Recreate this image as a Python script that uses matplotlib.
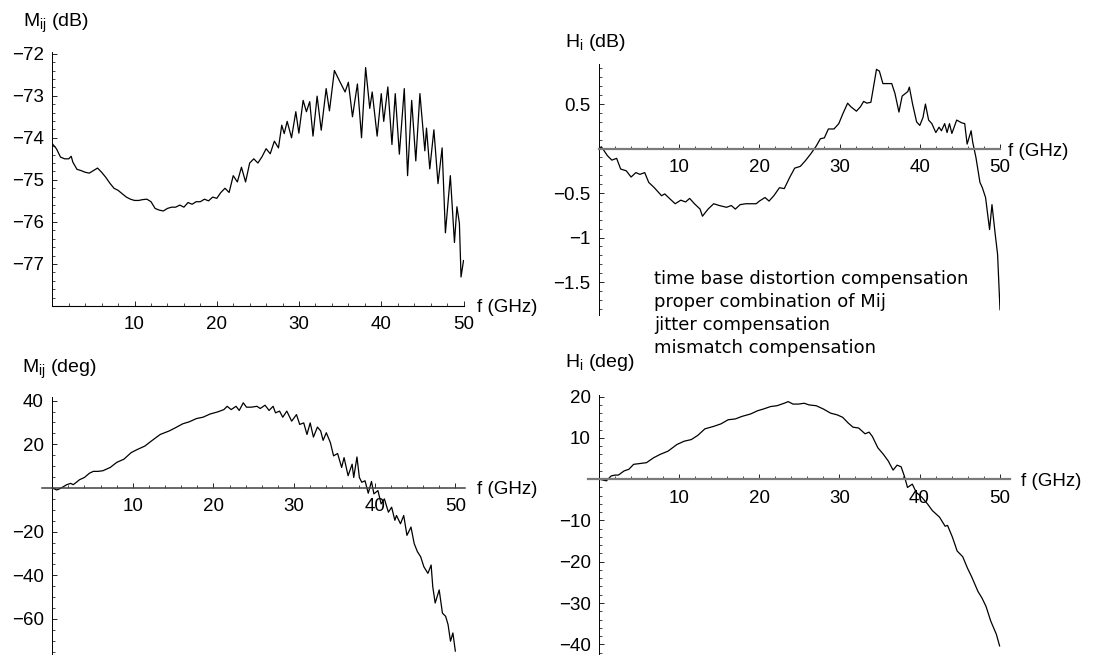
import matplotlib
matplotlib.use("Agg")
import matplotlib.pyplot as plt
from matplotlib.ticker import MultipleLocator

plt.rcParams['font.family'] = ['Liberation Sans', 'DejaVu Sans']
plt.rcParams['mathtext.fontset'] = 'custom'
plt.rcParams['mathtext.rm'] = 'Liberation Sans'
plt.rcParams['mathtext.it'] = 'Liberation Sans:italic'

# ---------------- data ----------------
# Top-left: M_ij magnitude (dB)
f_mag_ij = [0, 0.5, 1, 1.5, 2, 2.3, 2.5, 3, 3.5, 4, 4.5, 5, 5.5, 6, 6.5, 7, 7.5, 8,
            8.5, 9, 9.5, 10, 10.5, 11, 11.5, 12, 12.5, 13, 13.5, 14, 14.5, 15, 15.5,
            16, 16.5, 17, 17.5, 18, 18.5, 19, 19.5, 20, 20.5, 21, 21.5, 22, 22.5, 23,
            23.5, 24, 24.5, 25, 25.5, 26, 26.5, 27, 27.5, 27.9, 28.2, 28.56, 29.09,
            29.61, 29.98, 30.5, 30.9, 31.3, 31.7, 32.2, 32.7, 33.3, 33.7, 34.3, 34.9,
            35.6, 36.0, 36.5, 37.1, 37.6, 38.1, 38.6, 38.9, 39.5, 40.0, 40.3, 40.8,
            41.3, 41.7, 42.2, 42.8, 43.2, 43.7, 44.2, 44.7, 45.3, 45.5, 45.9, 46.4,
            46.9, 47.4, 47.8, 48.4, 48.9, 49.2, 49.5, 49.7, 50.0]
mag_ij_db = [-74.14, -74.26, -74.46, -74.50, -74.50, -74.44, -74.58, -74.75, -74.78,
             -74.82, -74.84, -74.78, -74.72, -74.82, -74.94, -75.08, -75.20, -75.25,
             -75.33, -75.41, -75.46, -75.49, -75.49, -75.47, -75.46, -75.52, -75.68,
             -75.72, -75.74, -75.68, -75.65, -75.65, -75.60, -75.65, -75.54, -75.58,
             -75.52, -75.52, -75.46, -75.50, -75.41, -75.44, -75.30, -75.20, -75.30,
             -74.90, -75.05, -74.70, -75.05, -74.60, -74.50, -74.60, -74.45, -74.26,
             -74.38, -74.08, -74.24, -73.70, -73.90, -73.61, -74.00, -73.38, -73.89,
             -73.11, -73.38, -73.14, -73.96, -73.01, -73.82, -72.83, -73.36, -72.40,
             -72.64, -72.91, -72.68, -73.50, -72.72, -74.00, -72.33, -73.30, -72.91,
             -73.96, -72.95, -73.61, -72.79, -74.16, -72.95, -74.39, -72.83, -74.90,
             -73.11, -74.55, -72.95, -74.31, -73.77, -74.74, -73.81, -75.09, -74.24,
             -76.26, -74.90, -76.49, -75.64, -76.03, -77.31, -76.92]

# Top-right: H_i magnitude (dB)
f_mag_h = [0, 0.3, 1.05, 1.6, 2.2, 2.7, 3.4, 4.0, 4.6, 5.1, 5.7, 6.2, 6.9, 7.8, 8.2,
           8.9, 9.5, 10.2, 10.8, 11.3, 11.9, 12.6, 12.9, 13.6, 14.3, 15.0, 15.9,
           16.5, 17.0, 17.6, 18.3, 18.9, 19.6, 20.0, 20.7, 21.2, 21.8, 22.5, 23.1,
           23.8, 24.4, 25.1, 25.7, 26.4, 27.1, 27.6, 28.1, 28.6, 29.3, 29.9, 30.4,
           31.0, 31.4, 32.1, 32.6, 33.0, 33.4, 33.9, 34.3, 34.6, 34.96, 35.4, 36.1,
           36.5, 36.9, 37.4, 37.8, 38.5, 38.7, 39.1, 39.6, 40.0, 40.4, 40.7, 41.1,
           41.5, 42.0, 42.4, 42.7, 43.1, 43.4, 43.7, 44.0, 44.6, 45.2, 45.6, 45.9,
           46.4, 46.6, 47.0, 47.5, 47.8, 48.2, 48.7, 49.0, 49.4, 49.7, 50.0]
mag_h_db = [0.0, 0.02, -0.08, -0.13, -0.11, -0.23, -0.25, -0.32, -0.27, -0.29, -0.27,
            -0.38, -0.44, -0.53, -0.51, -0.57, -0.62, -0.58, -0.60, -0.56, -0.62,
            -0.68, -0.76, -0.68, -0.62, -0.64, -0.66, -0.64, -0.68, -0.63, -0.62,
            -0.62, -0.62, -0.59, -0.55, -0.59, -0.53, -0.44, -0.45, -0.32, -0.22,
            -0.20, -0.14, -0.06, 0.03, 0.11, 0.12, 0.22, 0.22, 0.28, 0.39, 0.51, 0.47,
            0.42, 0.47, 0.53, 0.51, 0.52, 0.73, 0.89, 0.87, 0.73, 0.73, 0.73, 0.62,
            0.41, 0.59, 0.64, 0.69, 0.50, 0.30, 0.26, 0.35, 0.50, 0.32, 0.28, 0.18,
            0.24, 0.20, 0.28, 0.18, 0.28, 0.17, 0.32, 0.29, 0.28, 0.05, 0.20, 0.07,
            -0.10, -0.38, -0.44, -0.55, -0.91, -0.63, -0.96, -1.19, -1.81]

# Bottom-left: M_ij phase (deg)
f_ph_ij = [0, 0.56, 0.86, 1.4, 1.8, 2.3, 2.6, 3.0, 3.4, 4.0, 4.6, 5.1, 5.7, 6.3, 7.2,
           8.0, 8.9, 9.8, 10.6, 11.5, 12.3, 13.4, 14.5, 15.3, 16.2, 17.0, 17.9, 18.7,
           19.6, 20.5, 21.3, 21.7, 22.2, 22.8, 23.2, 23.7, 24.1, 24.7, 25.4, 25.8,
           26.4, 26.9, 27.4, 27.7, 28.2, 28.6, 29.1, 29.7, 30.3, 30.7, 31.2, 31.6,
           32.0, 32.4, 32.9, 33.3, 33.6, 34.0, 34.5, 34.9, 35.4, 35.9, 36.2, 36.7,
           37.2, 37.4, 37.8, 38.1, 38.4, 38.8, 39.2, 39.6, 39.9, 40.4, 40.8, 41.2,
           41.7, 42.1, 42.5, 42.7, 43.2, 43.6, 44.0, 44.5, 44.9, 45.3, 45.7, 46.1,
           46.6, 47.0, 47.2, 47.5, 48.0, 48.4, 48.8, 49.1, 49.4, 49.7, 50.0]
ph_ij_deg = [0.0, -0.9, -0.5, 0.6, 1.5, 2.1, 1.5, 2.6, 3.8, 4.8, 6.7, 7.6, 7.6, 7.9,
             9.4, 11.7, 13.2, 16.2, 17.7, 19.2, 21.5, 24.5, 26.1, 27.6, 29.4, 30.3,
             31.8, 32.4, 33.9, 34.8, 35.9, 37.4, 35.9, 37.4, 35.5, 39.0, 37.0, 37.0,
             37.4, 36.4, 37.9, 35.5, 37.4, 34.4, 35.2, 32.4, 35.2, 30.6, 33.6, 29.1,
             29.8, 24.5, 29.8, 23.3, 27.9, 26.1, 21.8, 25.3, 20.8, 14.7, 15.8, 9.4,
             13.9, 5.6, 10.9, 4.8, 14.2, 4.8, 2.6, 3.3, -2.4, 3.0, -2.7, -1.2, -7.3,
             -5.0, -11.1, -8.8, -14.8, -12.6, -16.4, -12.6, -21.7, -17.9, -25.5,
             -29.2, -31.5, -36.1, -39.1, -35.3, -45.2, -52.7, -46.7, -57.3, -58.8,
             -62.6, -70.2, -66.4, -74.7]

# Bottom-right: H_i phase (deg)
f_ph_h = [0, 0.9, 1.5, 2.0, 2.4, 3.1, 3.7, 4.3, 5.1, 5.9, 6.8, 7.6, 8.6, 9.7, 10.6,
          11.5, 12.3, 13.2, 14.3, 15.2, 16.1, 17.0, 17.8, 18.9, 19.8, 20.5, 21.4,
          22.2, 23.1, 23.6, 24.2, 24.9, 25.6, 26.2, 27.1, 28.0, 28.9, 29.7, 30.4,
          31.1, 31.7, 32.4, 33.2, 33.7, 34.1, 34.8, 35.5, 36.1, 36.7, 37.2, 37.7,
          38.1, 38.5, 39.1, 39.6, 40.3, 41.0, 41.6, 42.5, 43.2, 43.5, 44.1, 44.7,
          45.4, 46.0, 46.5, 47.3, 47.8, 48.3, 48.9, 49.6, 50.0]
ph_h_deg = [0.0, -0.4, 0.8, 1.0, 1.0, 2.0, 2.4, 3.6, 3.8, 4.0, 5.2, 6.0, 6.8, 8.4,
            9.2, 9.6, 10.6, 12.2, 12.8, 13.4, 14.4, 14.6, 15.2, 15.8, 16.6, 17.0,
            17.6, 17.8, 18.4, 18.8, 18.2, 18.2, 18.4, 18.0, 17.8, 17.0, 16.0, 15.6,
            15.0, 13.6, 12.6, 12.4, 11.0, 11.4, 10.4, 7.6, 6.0, 4.4, 2.2, 3.4, 3.0,
            0.8, -2.0, -1.2, -3.2, -4.4, -6.0, -7.6, -9.2, -11.4, -11.2, -14.0,
            -17.4, -18.8, -21.6, -23.6, -27.2, -28.8, -30.8, -34.4, -37.6, -40.4]

x_ticks = [10, 20, 30, 40, 50]
x_ticklabels = ["10", "20", "30", "40", "50"]
tl_yticks = [-77, -76, -75, -74, -73, -72]
tl_yticklabels = ["\u221277", "\u221276", "\u221275", "\u221274", "\u221273", "\u221272"]
tr_yticks = [-1.5, -1, -0.5, 0.5]
tr_yticklabels = ["\u22121.5", "\u22121", "\u22120.5", "0.5"]
bl_yticks = [-60, -40, -20, 20, 40]
bl_yticklabels = ["\u221260", "\u221240", "\u221220", "20", "40"]
br_yticks = [-40, -30, -20, -10, 10, 20]
br_yticklabels = ["\u221240", "\u221230", "\u221220", "\u221210", "10", "20"]
notes = ["time base distortion compensation", "proper combination of Mij",
         "jitter compensation", "mismatch compensation"]

# ---------------- figure ----------------
W, H = 1094, 655
fig = plt.figure(figsize=(W / 100, H / 100), dpi=100)


def add_ax(left, right, top, bottom):
    return fig.add_axes([left / W, 1 - bottom / H, (right - left) / W, (bottom - top) / H])


def ptext(x, y, s, **kw):
    return fig.text(x / W, 1 - y / H, s, **kw)


def style(ax, xlim, ylim, yticks, yticklabels, yminor, xaxis_y, xcol, xlw):
    ax.set_xlim(*xlim)
    ax.set_ylim(*ylim)
    ax.patch.set_alpha(0)
    for s in ("top", "right"):
        ax.spines[s].set_visible(False)
    ax.spines["left"].set_position(("data", 0))
    ax.spines["left"].set_linewidth(0.7)
    ax.spines["left"].set_color("black")
    ax.spines["bottom"].set_position(("data", xaxis_y))
    ax.spines["bottom"].set_color(xcol)
    ax.spines["bottom"].set_linewidth(xlw)
    ax.set_xticks(x_ticks, labels=x_ticklabels)
    ax.set_yticks(yticks, labels=yticklabels)
    ax.xaxis.set_minor_locator(MultipleLocator(2))
    ax.yaxis.set_minor_locator(MultipleLocator(yminor))
    ax.tick_params(which="major", direction="in", length=3.5, width=0.6,
                   labelsize=13.5, color="black")
    ax.tick_params(which="minor", direction="in", length=2, width=0.5, color="black")
    ax.tick_params(axis="x", which="major", pad=7.5)
    ax.tick_params(axis="y", which="major", pad=6)


# Top-left
ax1 = add_ax(52.3, 463.5, 52, 306)
ax1.plot(f_mag_ij, mag_ij_db, color="black", lw=0.9)
style(ax1, (0, 50), (-78.0, -71.96), tl_yticks, tl_yticklabels, 0.2, -78.0, "black", 0.8)

# Top-right
ax2 = add_ax(599, 1000, 64, 315)
ax2.plot(f_mag_h, mag_h_db, color="black", lw=0.9)
style(ax2, (0, 50), (-1.87, 0.95), tr_yticks, tr_yticklabels, 0.1, 0, "#7a7a7a", 1.6)

# Bottom-left
ax3 = add_ax(41.7, 465, 396.7, 655)
ax3.plot(f_ph_ij, ph_ij_deg, color="black", lw=0.9)
style(ax3, (-1.3, 51.2), (-76.5, 41.8), bl_yticks, bl_yticklabels, 5, 0, "#404040", 1.1)

# Bottom-right
ax4 = add_ax(588, 1010, 395, 655)
ax4.plot(f_ph_h, ph_h_deg, color="black", lw=0.9)
style(ax4, (-1.4, 51.3), (-42.6, 20.4), br_yticks, br_yticklabels, 2, 0, "#7a7a7a", 1.6)

# Axis titles
lab = dict(fontsize=14, ha="left", va="baseline")
ptext(23, 27, r"M$_{\mathrm{ij}}$ (dB)", **lab)
ptext(22, 373, r"M$_{\mathrm{ij}}$ (deg)", **lab)
ptext(565, 47, r"H$_{\mathrm{i}}$ (dB)", **lab)
ptext(565, 367, r"H$_{\mathrm{i}}$ (deg)", **lab)

flab = dict(fontsize=13.5, ha="left", va="center")
ptext(477, 307, "f (GHz)", **flab)
ptext(1008, 151, "f (GHz)", **flab)
ptext(477, 490, "f (GHz)", **flab)
ptext(1021, 481, "f (GHz)", **flab)

# Notes
for i, line in enumerate(notes):
    ptext(654, 284 + 23 * i, line, fontsize=13, family="DejaVu Sans",
          ha="left", va="baseline")

fig.savefig("out.png", dpi=100)
